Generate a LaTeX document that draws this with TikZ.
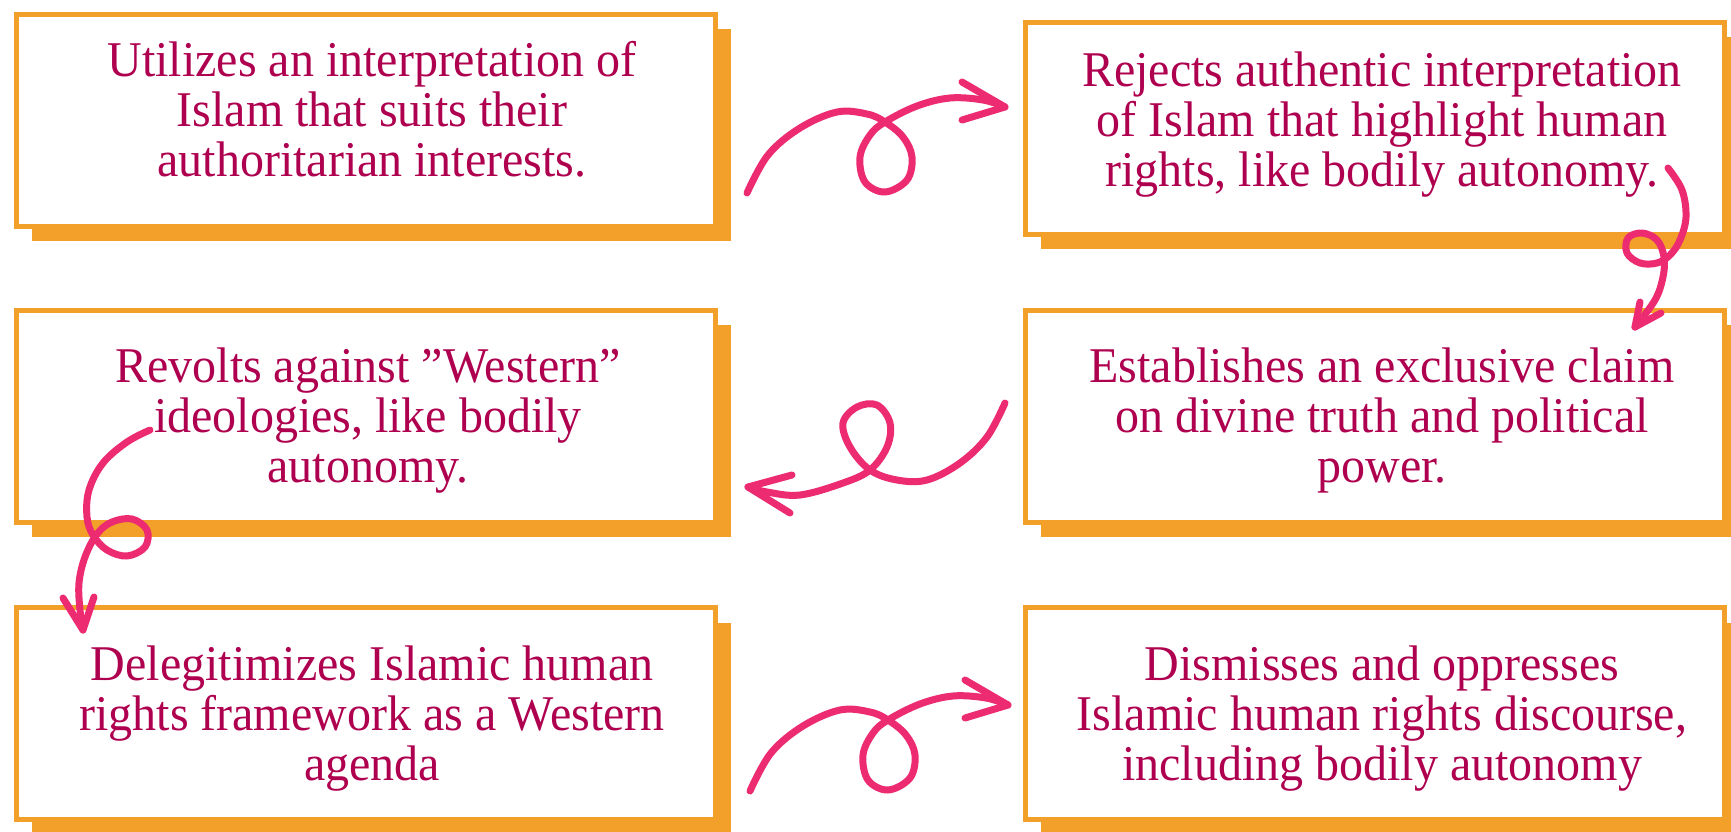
\documentclass[tikz,border=0pt]{standalone}
\usepackage{fontspec}
\setmainfont{Liberation Serif}[FakeStretch=0.96]
\usetikzlibrary{shadows}
\definecolor{boxorange}{RGB}{242,160,42}
\definecolor{textred}{RGB}{175,0,80}
\definecolor{arrowpink}{RGB}{236,43,112}
\begin{document}
\begin{tikzpicture}[x=0.5pt,y=-0.5pt,
  box/.style={draw=boxorange, line width=2.5pt, fill=white, inner sep=0pt,
    minimum width=349.5pt, minimum height=106pt,
    drop shadow={shadow xshift=7.5pt, shadow yshift=-7.5pt, fill=boxorange, opacity=1}},
  txt/.style={text=textred, anchor=base, inner sep=0pt, font=\fontsize{25}{25}\selectfont},
  curly/.style={draw=arrowpink, line width=3.5pt, line cap=round, line join=round},
  loopright/.pic={
    \coordinate (-s) at (0,0);
    \coordinate (-tip) at (258,-86);
    \draw[curly] plot[smooth, tension=0.6] coordinates {(-s) (21,-38) (53,-65) (90,-81) (120,-79) (138,-71) (156,-56) (165,-36) (160,-13) (138,-1) (118,-11) (113,-36) (123,-58) (138,-71) (170,-87) (203,-95) (236,-93) (-tip)};
    \draw[curly] (215,-111) -- (-tip) -- (215,-73);
  }]
\useasboundingbox (0,0) rectangle (1731,831);
\fill[white] (0,0) rectangle (1731,831);

% boxes
\node[box] (b1) at (366,120) {};
\node[box] (b2) at (1375,128) {};
\node[box] (b3) at (366,416) {};
\node[box] (b4) at (1375,416) {};
\node[box] (b5) at (366,713.5) {};
\node[box] (b6) at (1375,713.5) {};

% texts
\foreach \l [count=\i] in {Utilizes an interpretation of, Islam that suits their, authoritarian interests.}
  \node[txt] (t1-\i) at (372,{76+50*(\i-1)}) {\l};
\foreach \l [count=\i] in {Rejects authentic interpretation, of Islam that highlight human, {rights, like bodily autonomy.}}
  \node[txt] (t2-\i) at (1382,{86+50*(\i-1)}) {\l};
\foreach \l [count=\i] in {Revolts against "Western", {ideologies, like bodily}, autonomy.}
  \node[txt] (t3-\i) at (368,{382+50*(\i-1)}) {\l};
\foreach \l [count=\i] in {Establishes an exclusive claim, on divine truth and political, power.}
  \node[txt] (t4-\i) at (1382,{382+50*(\i-1)}) {\l};
\foreach \l [count=\i] in {Delegitimizes Islamic human, rights framework as a Western, agenda}
  \node[txt] (t5-\i) at (372,{680+50*(\i-1)}) {\l};
\foreach \l [count=\i] in {Dismisses and oppresses, {Islamic human rights discourse,}, including bodily autonomy}
  \node[txt] (t6-\i) at (1382,{680+50*(\i-1)}) {\l};

% arrows
\pic (p1) at (747,193) {loopright};
\pic (p3) at (750,791) {loopright};

\coordinate (a2s) at (1668,168);
\coordinate (a2t) at (1635,327);
\draw[curly] plot[smooth, tension=0.6] coordinates {(a2s) (1682,190) (1686,217) (1680,240) (1670,255) (1657,263) (1640,263) (1627,253) (1628,238) (1642,233) (1657,240) (1664,257) (1663,277) (1655,300) (a2t)};
\draw[curly] (1640,302) -- (a2t) -- (1661,313);

\coordinate (a4s) at (1005,403);
\coordinate (a4t) at (748,487);
\draw[curly] plot[smooth, tension=0.6] coordinates {(a4s) (987,437) (960,463) (927,480) (897,480) (870,470) (850,447) (843,423) (857,407) (877,405) (890,423) (887,447) (870,470) (843,483) (800,495) (767,492) (a4t)};
\draw[curly] (792,475) -- (a4t) -- (790,513);

\coordinate (a5s) at (150,430);
\coordinate (a5t) at (83,630);
\draw[curly] plot[smooth, tension=0.6] coordinates {(a5s) (127,442) (103,463) (89,490) (87,517) (93,535) (107,550) (127,556) (145,547) (147,530) (132,519) (112,522) (97,534) (85,557) (79,583) (80,610) (a5t)};
\draw[curly] (63,598) -- (a5t) -- (94,597);
\end{tikzpicture}
\end{document}
